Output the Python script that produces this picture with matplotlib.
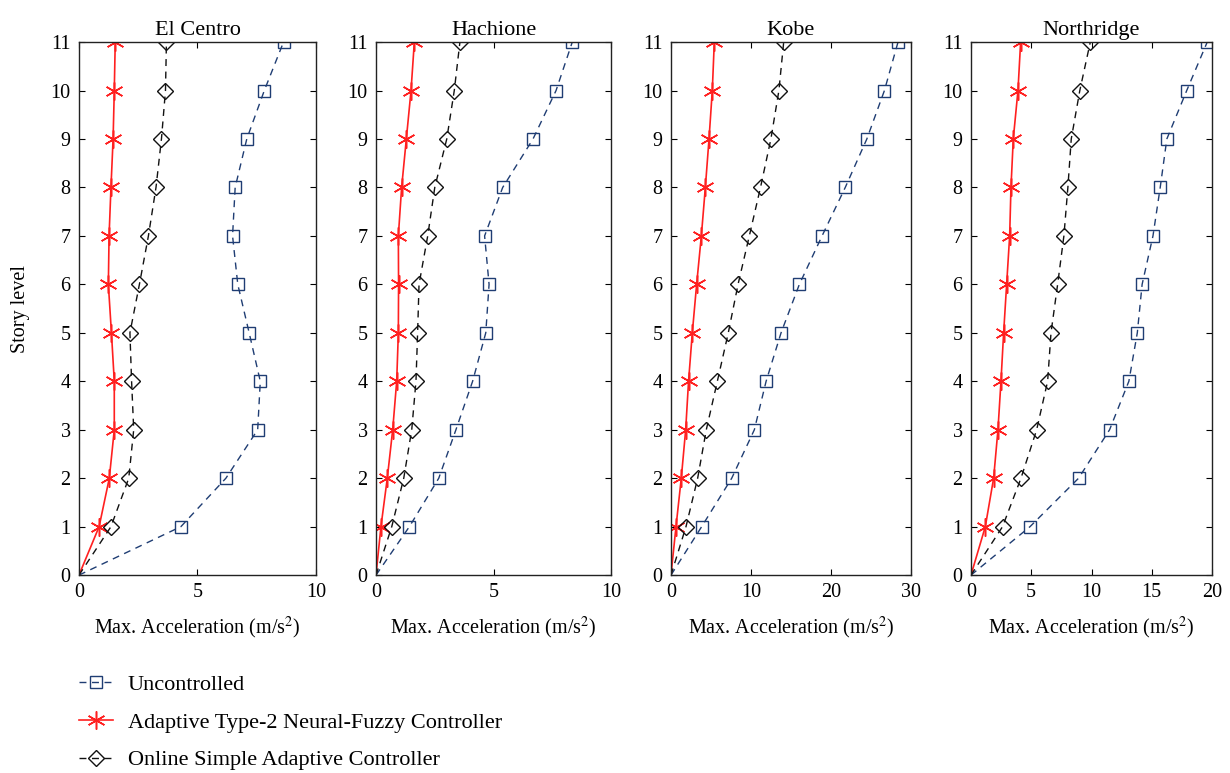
import matplotlib
matplotlib.use('Agg')
import matplotlib.pyplot as plt
import numpy as np

plt.rcParams['font.family'] = ['Liberation Serif', 'DejaVu Serif']
plt.rcParams['mathtext.fontset'] = 'stix'

# Story levels (0 = ground)
stories = list(range(0, 12))

titles = ['El Centro', 'Hachione', 'Kobe', 'Northridge']
x_limits = [10, 10, 30, 20]
x_ticks = [[0, 5, 10], [0, 5, 10], [0, 10, 20, 30], [0, 5, 10, 15, 20]]

# Max. acceleration per story (m/s^2)
uncontrolled = [
    [0, 4.30, 6.20, 7.54, 7.65, 7.18, 6.70, 6.48, 6.59, 7.08, 7.82, 8.63],
    [0, 1.42, 2.67, 3.40, 4.11, 4.67, 4.81, 4.62, 5.39, 6.68, 7.66, 8.35],
    [0, 3.84, 7.60, 10.43, 11.90, 13.77, 16.06, 18.90, 21.80, 24.50, 26.70, 28.40],
    [0, 4.90, 8.93, 11.50, 13.10, 13.80, 14.20, 15.10, 15.70, 16.25, 17.90, 19.60],
]
type2_nf = [
    [0, 0.85, 1.28, 1.49, 1.49, 1.37, 1.24, 1.27, 1.35, 1.44, 1.49, 1.53],
    [0, 0.21, 0.48, 0.71, 0.88, 0.95, 0.96, 0.95, 1.09, 1.29, 1.49, 1.63],
    [0, 0.63, 1.29, 1.84, 2.20, 2.67, 3.21, 3.80, 4.30, 4.76, 5.17, 5.42],
    [0, 1.19, 1.88, 2.24, 2.49, 2.71, 2.96, 3.21, 3.32, 3.51, 3.90, 4.12],
]
osac = [
    [0, 1.35, 2.10, 2.31, 2.22, 2.15, 2.55, 2.93, 3.25, 3.48, 3.65, 3.69],
    [0, 0.67, 1.18, 1.52, 1.70, 1.77, 1.83, 2.20, 2.50, 3.01, 3.33, 3.57],
    [0, 1.88, 3.34, 4.42, 5.80, 7.17, 8.39, 9.80, 11.20, 12.50, 13.50, 14.10],
    [0, 2.62, 4.15, 5.45, 6.36, 6.64, 7.19, 7.71, 8.04, 8.32, 9.03, 9.90],
]

navy = '#1f3d73'
fig = plt.figure(figsize=(12.3, 7.73), dpi=100)

lefts = [0.0642, 0.3057, 0.5455, 0.7894]
widths = [0.1927, 0.1911, 0.1950, 0.1960]
bottom, height = 0.256, 0.6896
asterisk = (6, 2, 0)

for i in range(4):
    ax = fig.add_axes([lefts[i], bottom, widths[i], height])
    h1, = ax.plot(uncontrolled[i], stories, '--', color=navy, lw=1.0,
                  marker='s', mfc='none', mec=navy, ms=8.5, mew=1.0,
                  markevery=list(range(1, 12)), dashes=(5, 4))
    h2, = ax.plot(type2_nf[i], stories, '-', color='#ff2020', lw=1.2,
                  marker=asterisk, ms=13, mew=1.1, mec='#ff2020',
                  markevery=list(range(1, 12)))
    h3, = ax.plot(osac[i], stories, '--', color='#111111', lw=1.0,
                  marker='D', mfc='none', mec='#111111', ms=8, mew=1.0,
                  markevery=list(range(1, 12)), dashes=(5, 4))
    ax.set_xlim(0, x_limits[i])
    ax.set_ylim(0, 11)
    ax.set_xticks(x_ticks[i])
    ax.set_yticks(stories)
    ax.tick_params(direction='in', top=True, right=True, labelsize=14.5,
                   length=4, pad=6)
    for s in ax.spines.values():
        s.set_linewidth(1.0)
        s.set_color('#222222')
    ax.set_title(titles[i], fontsize=16, pad=5)
    ax.set_xlabel('Max. Acceleration (m/s$^2$)', fontsize=14.5, labelpad=9)
    if i == 0:
        ax.set_ylabel('Story level', fontsize=14.5, labelpad=15)

labels = ['Uncontrolled', 'Adaptive Type-2 Neural-Fuzzy Controller',
          'Online Simple Adaptive Controller']
fig.legend([h1, h2, h3], labels, loc='upper left', bbox_to_anchor=(0.064, 0.128),
           frameon=False, fontsize=16, handlelength=1.55, labelspacing=0.78,
           handletextpad=0.65, borderaxespad=0, borderpad=0)

plt.savefig('out.png', dpi=100)
